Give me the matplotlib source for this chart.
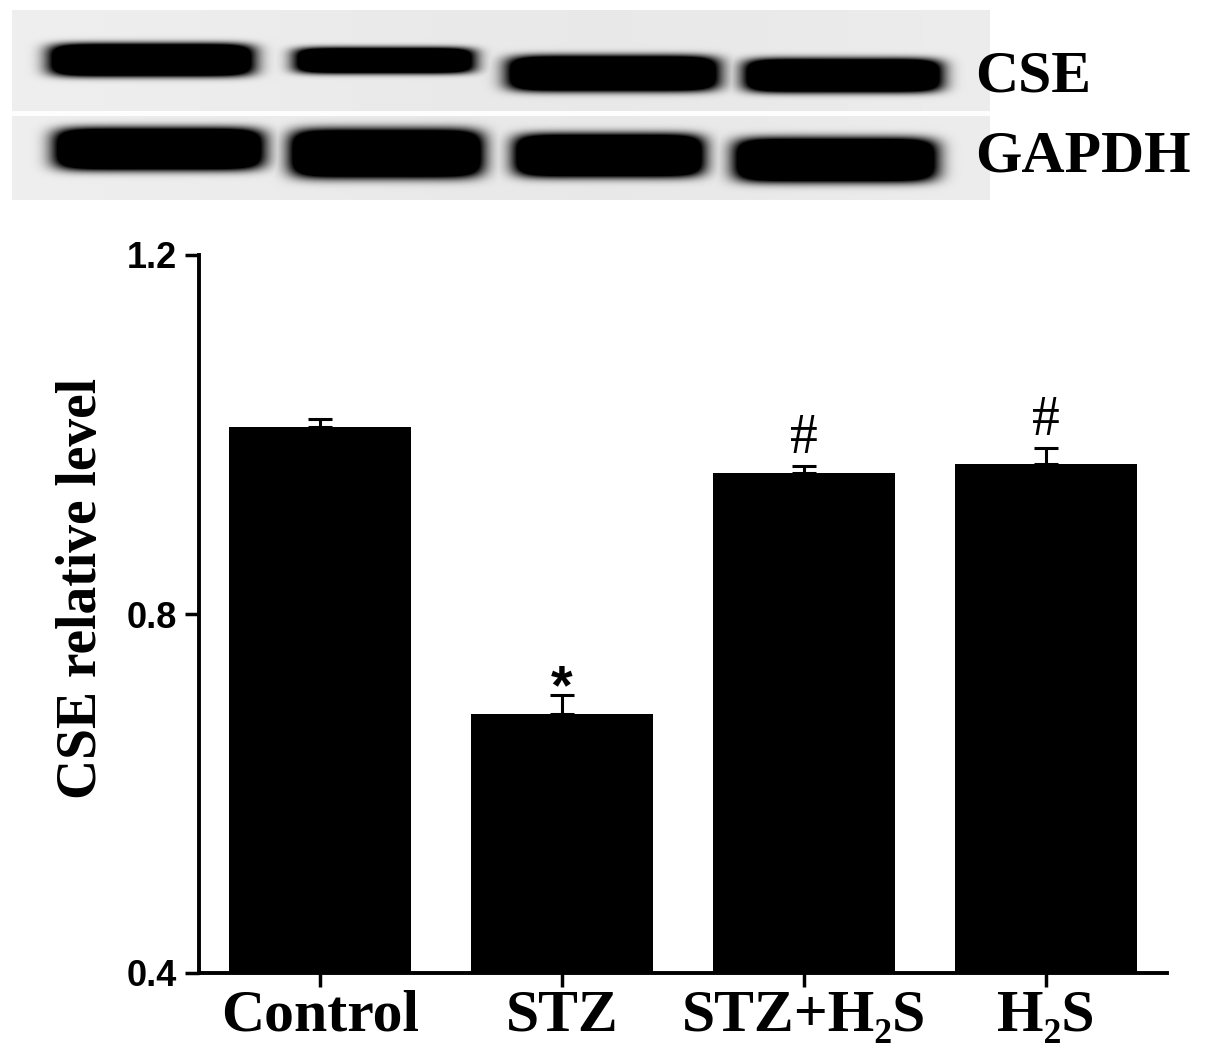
import matplotlib
matplotlib.use('Agg')
import matplotlib.pyplot as plt
import numpy as np

# data
groups = ['Control', 'STZ', 'STZ+H\u2082S', 'H\u2082S']
cse_level = [1.008, 0.689, 0.957, 0.967]
cse_sem = [0.009, 0.021, 0.008, 0.018]
marks = ['', '*', '#', '#']

# western blot band darkness (0..1) per lane
cse_band = [1.0, 0.9, 1.0, 1.0]
gapdh_band = [1.0, 1.0, 1.0, 1.0]

W, H = 1205, 1051
fig = plt.figure(figsize=(W / 100, H / 100), dpi=100)
serif = ['Liberation Serif', 'DejaVu Serif']
sans = ['Liberation Sans', 'DejaVu Sans']

# ---- blot picture (pixel coords of the figure) ----
bx0, bx1, by0, by1 = 12, 990, 10, 200
bax = fig.add_axes([bx0 / W, 1 - by1 / H, (bx1 - bx0) / W, (by1 - by0) / H])
xx, yy = np.meshgrid(np.arange(bx0, bx1), np.arange(by0, by1))
img = np.full(xx.shape, 0.935)
img -= 0.025 * np.exp(-((xx - 600) / 400.0) ** 2)

# lane boxes: (x0, x1, y0, y1) for each band
cse_boxes = [(45, 257, 42, 77), (290, 478, 46, 74), (503, 722, 54, 92), (740, 945, 57, 93)]
gapdh_boxes = [(50, 267, 126, 171), (286, 486, 127, 179), (510, 707, 132, 178), (730, 940, 136, 183)]


def band(box, k):
    x0, x1, y0, y1 = box
    cx, cy = (x0 + x1) / 2, (y0 + y1) / 2
    a, b = (x1 - x0) / 2, (y1 - y0) / 2
    r = (np.abs(xx - cx) / a) ** 8 + (np.abs(yy - cy) / b) ** 4
    return k * np.exp(-1.5 * r)


dark = np.zeros_like(img)
for box, k in zip(cse_boxes, cse_band):
    dark = np.maximum(dark, band(box, k))
for box, k in zip(gapdh_boxes, gapdh_band):
    dark = np.maximum(dark, band(box, k))
img = img * (1 - np.clip(dark * 2.4, 0, 1))
img[(yy >= 111) & (yy <= 115)] = 0.99
bax.imshow(img, cmap='gray', vmin=0, vmax=1, extent=(bx0, bx1, by1, by0),
           interpolation='bilinear', aspect='auto')
bax.set_axis_off()

fig.text(975 / W, 1 - 78 / H, 'CSE', family=serif, weight='bold', fontsize=43,
         ha='left', va='center')
fig.text(975 / W, 1 - 158 / H, 'GAPDH', family=serif, weight='bold', fontsize=43,
         ha='left', va='center')

# ---- bar chart ----
ax = fig.add_axes([199 / W, 1 - 973 / H, 968 / W, (973 - 255) / H])
x = np.arange(len(groups))
ax.bar(x, cse_level, width=0.75, color='black', zorder=2)
ax.errorbar(x, cse_level, yerr=[np.zeros(4), cse_sem], fmt='none', ecolor='black',
            elinewidth=2.2, capsize=8.5, capthick=2.2, zorder=3)

for xi, v, e, m in zip(x, cse_level, cse_sem, marks):
    if m == '*':
        ax.annotate(m, (xi, v + e), xytext=(0, -6), textcoords='offset points',
                    ha='center', va='baseline', family=sans, weight='bold', fontsize=40)
    elif m:
        ax.annotate(m, (xi, v + e), xytext=(0, 9), textcoords='offset points',
                    ha='center', va='baseline', family=serif, fontsize=40)

ax.set_xlim(-0.5, 3.5)
ax.set_ylim(0.4, 1.2)
ax.set_yticks([0.4, 0.8, 1.2])
ax.set_yticklabels(['0.4', '0.8', '1.2'], family=sans, weight='bold', fontsize=26)
ax.set_xticks(x)
ax.set_xticklabels(groups, family=serif, weight='bold', fontsize=43)
ax.tick_params(axis='both', direction='out', length=10, width=2.5)
ax.tick_params(axis='y', pad=6)
ax.tick_params(axis='x', pad=2)
for s in ['top', 'right']:
    ax.spines[s].set_visible(False)
for s in ['left', 'bottom']:
    ax.spines[s].set_linewidth(2.8)

fig.text(82 / W, 1 - 588 / H, 'CSE relative level', family=serif, weight='bold',
         fontsize=40, rotation=90, ha='center', va='center')

fig.savefig('out.png', dpi=100)
